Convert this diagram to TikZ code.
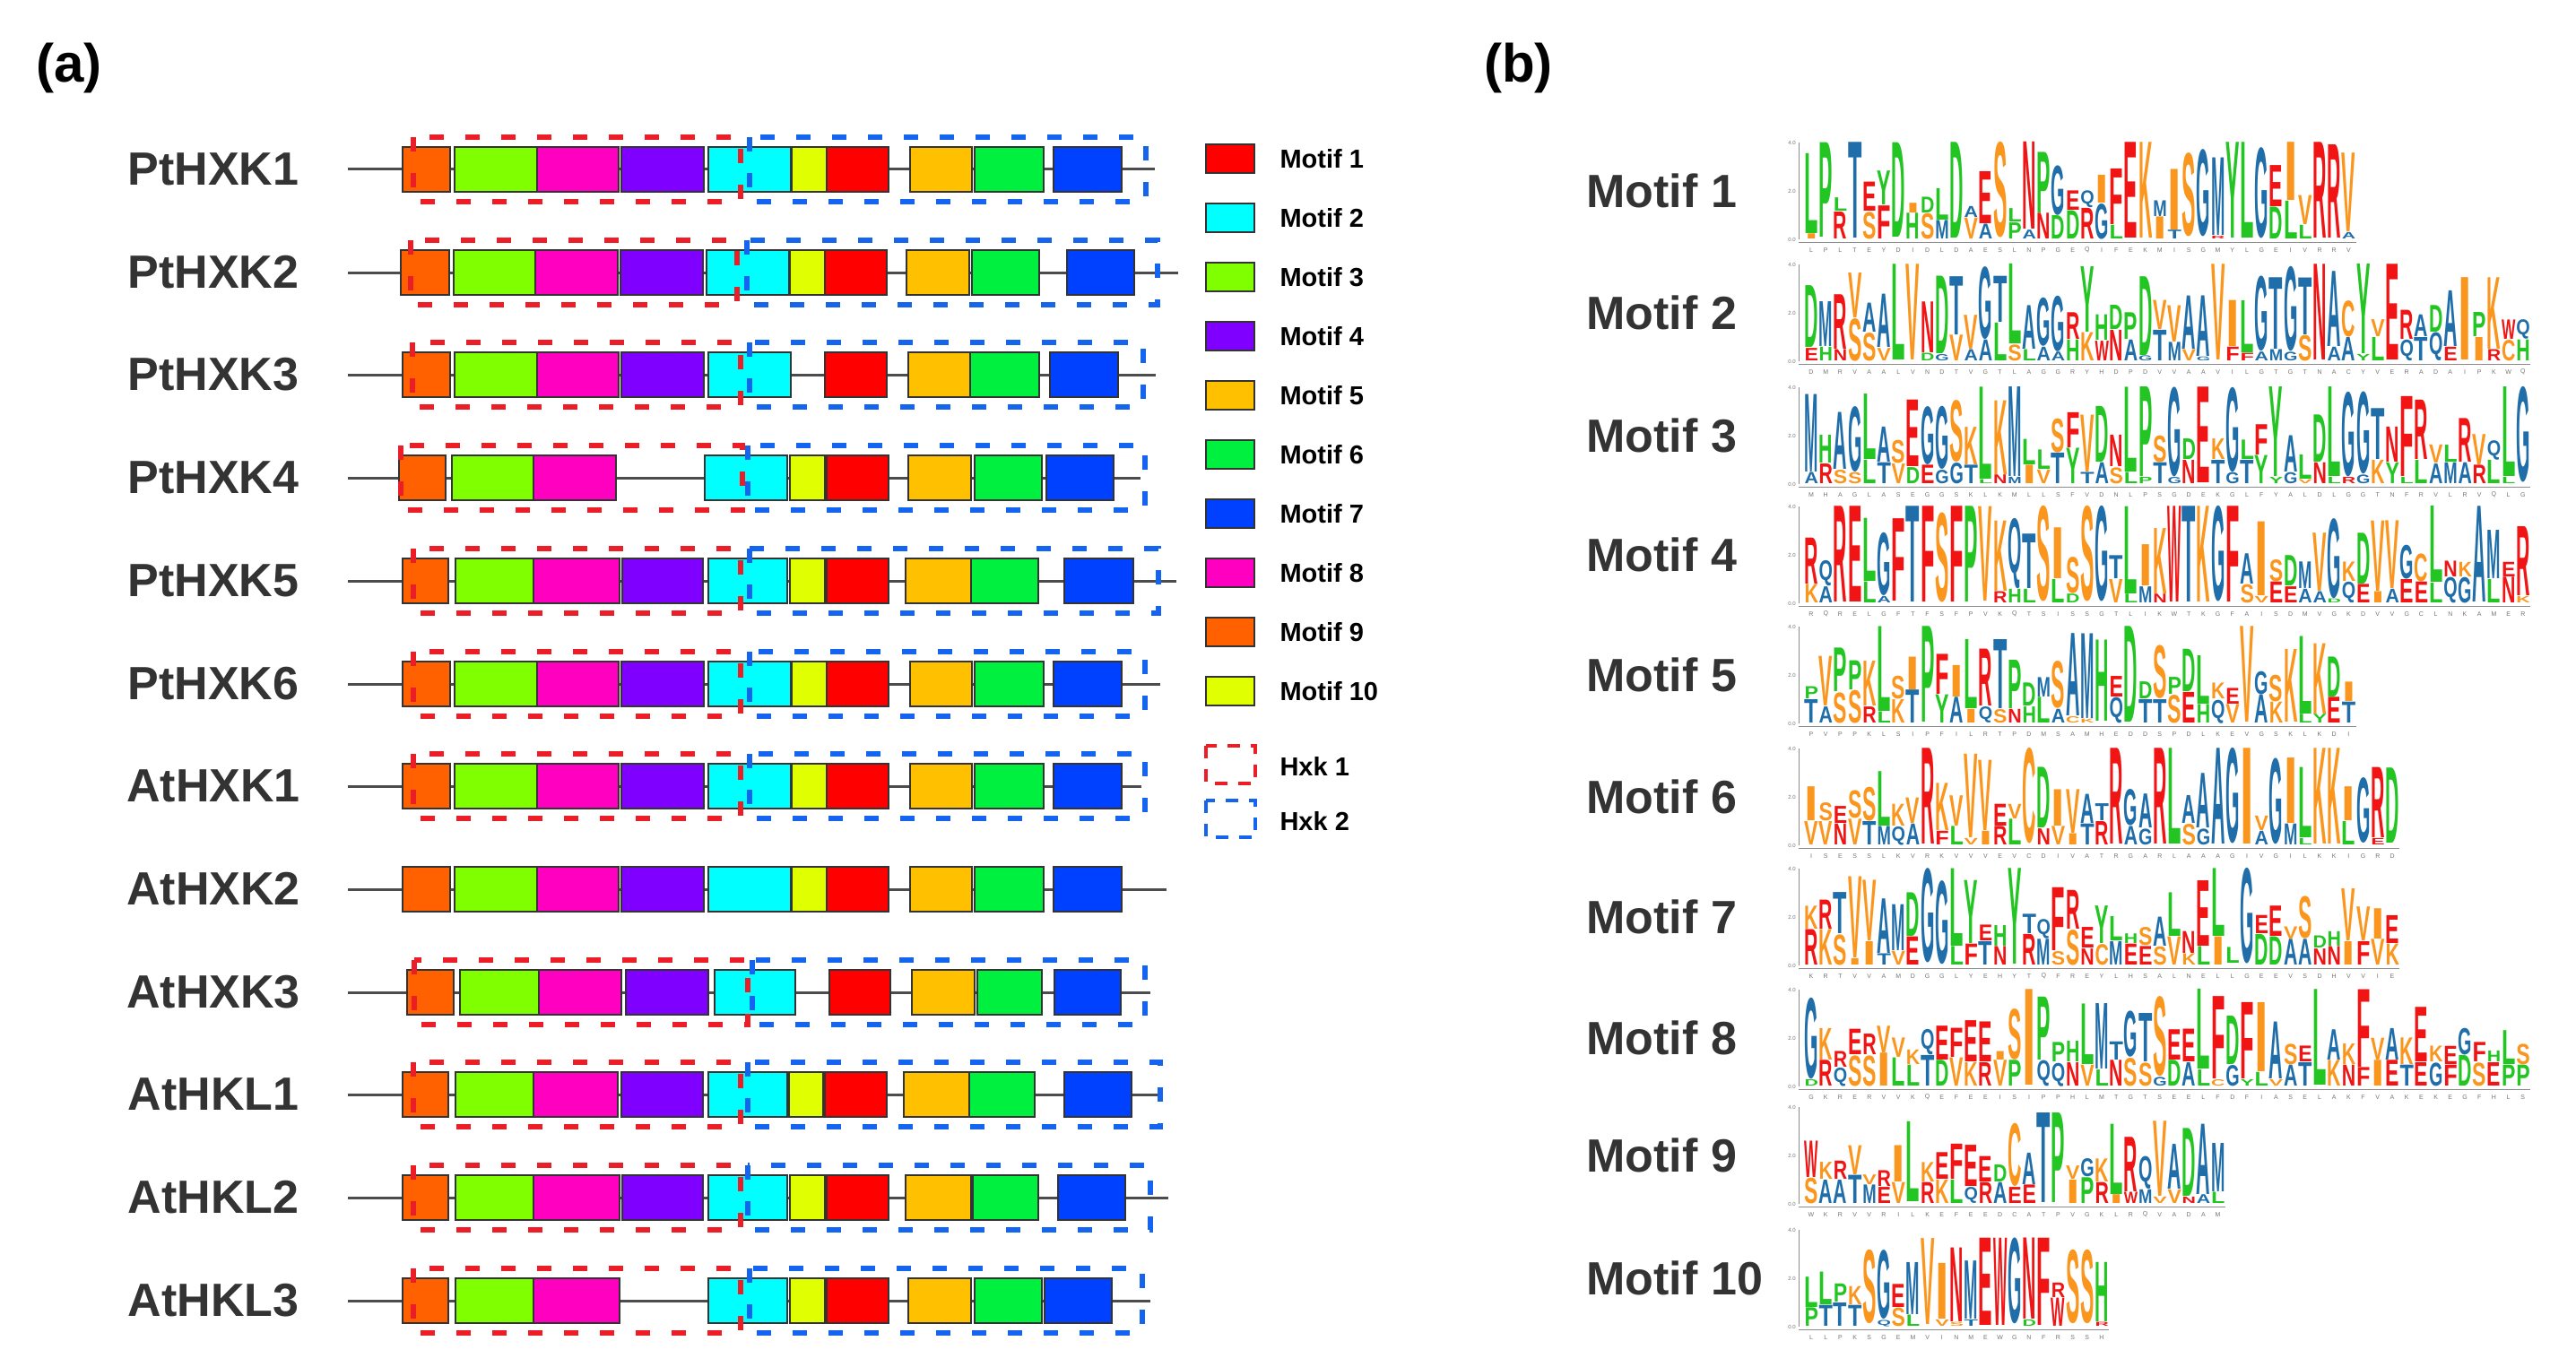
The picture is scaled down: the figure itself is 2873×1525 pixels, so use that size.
\documentclass[tikz,border=0pt]{standalone}
\usepackage{fontspec}
\setmainfont{Liberation Sans}
\usepackage{graphicx}

\definecolor{m1}{RGB}{255,0,0}
\definecolor{m2}{RGB}{0,255,255}
\definecolor{m3}{RGB}{128,255,0}
\definecolor{m4}{RGB}{128,0,255}
\definecolor{m5}{RGB}{255,192,0}
\definecolor{m6}{RGB}{0,240,64}
\definecolor{m7}{RGB}{0,64,255}
\definecolor{m8}{RGB}{255,0,192}
\definecolor{m9}{RGB}{255,96,0}
\definecolor{m10}{RGB}{224,255,0}
\definecolor{hxkred}{RGB}{235,30,40}
\definecolor{hxkblue}{RGB}{20,100,240}
\definecolor{logoblue}{RGB}{31,110,169}
\definecolor{logogreen}{RGB}{34,197,34}
\definecolor{logored}{RGB}{240,20,20}
\definecolor{logoorange}{RGB}{250,150,30}
\colorlet{lcA}{logoblue}\colorlet{lcG}{logoblue}\colorlet{lcM}{logoblue}
\colorlet{lcQ}{logoblue}\colorlet{lcT}{logoblue}
\colorlet{lcD}{logogreen}\colorlet{lcH}{logogreen}\colorlet{lcL}{logogreen}
\colorlet{lcP}{logogreen}\colorlet{lcY}{logogreen}
\colorlet{lcE}{logored}\colorlet{lcF}{logored}\colorlet{lcN}{logored}
\colorlet{lcR}{logored}\colorlet{lcW}{logored}
\colorlet{lcC}{logoorange}\colorlet{lcI}{logoorange}\colorlet{lcK}{logoorange}
\colorlet{lcS}{logoorange}\colorlet{lcV}{logoorange}

\tikzset{
  panel/.style={font=\fontsize{60}{70}\selectfont\bfseries, anchor=base west, inner sep=0pt},
  genelabel/.style={font=\fontsize{52}{60}\selectfont\bfseries, text=black!80},
  backbone/.style={line width=3pt, black!70},
  motifbox/.style={draw=black!80, line width=2.5pt},
  hxkone/.style={draw=hxkred, line width=5.5pt, dash pattern=on 16pt off 24pt},
  hxktwo/.style={draw=hxkblue, line width=5.5pt, dash pattern=on 16pt off 24pt},
  legtext/.style={font=\fontsize{29}{34}\selectfont\bfseries, anchor=west},
  motiflabel/.style={font=\fontsize{52}{60}\selectfont\bfseries, text=black!80, anchor=west},
  logoletter/.style={inner sep=0pt, anchor=south west, font=\bfseries},
  consletter/.style={inner sep=0pt, font=\fontsize{7}{8}\selectfont, text=black!55},
  ticklabel/.style={inner sep=1pt, anchor=east, font=\fontsize{6}{7}\selectfont, text=black!55},
  logoaxis/.style={line width=0.8pt, black!45}
}

% one gene: name, y, end of line, motifs
\newcommand{\generow}[4]{%
  \node[genelabel] (#1) at (238,#2) {#1};
  \draw[backbone] (388,#2) -- (#3,#2);
  \foreach \m/\xa/\xb in {#4}
    \draw[motifbox, fill=m\m] (\xa,#2-25) rectangle (\xb,#2+25);
}

% one logo: name, label, baseline, columns, letter/top/bottom/filler
\newcommand{\seqlogo}[5]{%
  \node[motiflabel] (#1) at (1766,#3-54) {#2};
  \draw[logoaxis] (2006,#3) -- (2006,#3-108);
  \draw[logoaxis] (2006,#3+3) -- ({2012+#4*16.2},#3+3);
  \foreach \v/\vt in {0/0.0,2/2.0,4/4.0}
    \node[ticklabel] (#1t\v) at (2004,#3-\v*27) {\vt};
  \foreach \ltr/\tp/\bt/\sbl [count=\i] in {#5} {
    \pgfmathsetmacro\xx{2012.3+(\i-1)*16.2}
    \pgfmathsetmacro\hta{(\tp-\bt)*27}
    \pgfmathsetmacro\hb{\bt*27}
    \pgfmathsetmacro\hc{\bt*27-1}
    \node[logoletter, text=lc\ltr] (#1top\i) at (\xx,#3-\hb) {\resizebox*{15.4pt}{\hta pt}{\ltr}};
    \ifdim\hb pt>3pt
      \node[logoletter, text=lc\sbl] (#1low\i) at (\xx,#3) {\resizebox*{15.4pt}{\hc pt}{\sbl}};
    \fi
    \node[consletter] (#1c\i) at (\xx+7.7,#3+12) {\ltr};
  }
}

\begin{document}
\begin{tikzpicture}[x=1pt,y=-1pt]
  \useasboundingbox (0,0) rectangle (2873,1525);

  \node[panel] (pa) at (40,92) {(a)};
  \node[panel] (pb) at (1655,92) {(b)};

  \generow{PtHXK1}{189}{1288}{9/449/502,3/507/599,8/599/690,4/693/785,2/790/882,10/883/922,1/922/991,5/1015/1084,6/1087/1164,7/1175/1251}
  \generow{PtHXK2}{304}{1314}{9/447/501,3/506/597,8/597/689,4/692/784,2/788/880,10/881/920,1/920/989,5/1011/1081,6/1084/1159,7/1190/1265}
  \generow{PtHXK3}{418}{1289}{9/449/502,3/507/599,8/599/690,4/693/785,2/790/882,1/920/989,5/1013/1082,6/1082/1159,7/1171/1247}
  \generow{PtHXK4}{533}{1272}{9/445/497,3/504/595,8/595/687,2/786/878,10/881/920,1/922/991,5/1013/1083,6/1087/1162,7/1167/1242}
  \generow{PtHXK5}{648}{1312}{9/449/500,3/508/595,8/595/691,4/694/784,2/790/878,10/881/920,1/922/991,5/1010/1083,6/1083/1158,7/1187/1264}
  \generow{PtHXK6}{763}{1294}{9/449/502,3/507/599,8/599/690,4/693/785,2/790/882,10/883/922,1/922/991,5/1015/1084,6/1087/1164,7/1175/1251}
  \generow{AtHXK1}{877}{1273}{9/449/502,3/507/599,8/599/690,4/693/785,2/790/882,10/883/922,1/922/991,5/1015/1084,6/1087/1164,7/1175/1251}
  \generow{AtHXK2}{992}{1301}{9/449/502,3/507/599,8/599/690,4/693/785,2/790/882,10/883/922,1/922/991,5/1015/1084,6/1087/1164,7/1175/1251}
  \generow{AtHXK3}{1107}{1283}{9/454/506,3/513/601,8/601/693,4/698/790,2/797/887,1/925/993,5/1017/1087,6/1090/1162,7/1176/1250}
  \generow{AtHKL1}{1221}{1294}{9/449/500,3/508/595,8/595/689,4/693/784,2/790/878,10/880/918,1/920/989,5/1008/1081,6/1081/1154,7/1187/1262}
  \generow{AtHKL2}{1336}{1303}{9/449/500,3/508/595,8/595/691,4/694/784,2/790/878,10/881/920,1/922/991,5/1010/1083,6/1085/1158,7/1180/1255}
  \generow{AtHKL3}{1451}{1283}{9/449/500,3/508/595,8/595/691,2/790/878,10/881/920,1/922/991,5/1013/1083,6/1087/1162,7/1165/1240}

  \foreach \y/\rl/\rr/\bl/\br in {189/461/826/836/1278, 304/458/822/833/1291, 418/460/826/836/1275,
      533/447/828/834/1277, 648/461/826/836/1292, 763/461/826/836/1277, 877/461/826/836/1277,
      1107/462/834/839/1277, 1221/461/826/834/1294, 1336/461/826/834/1283, 1451/461/826/836/1274} {
    \draw[hxkone] (\rl,\y-36) rectangle (\rr,\y+36);
    \draw[hxktwo] (\bl,\y-36) rectangle (\br,\y+36);
  }

  % legend
  \foreach \m in {1,...,10} {
    \pgfmathsetmacro\yy{177+(\m-1)*66}
    \draw[motifbox, fill=m\m] (1345,\yy-16) rectangle (1399,\yy+16);
    \node[legtext] (leg\m) at (1424,\yy) {Motif \m};
  }
  \draw[hxkone, line width=4pt, dash pattern=on 14pt off 12pt] (1345,832) rectangle (1400,874);
  \node[legtext] (hxk1) at (1424,855) {Hxk 1};
  \draw[hxktwo, line width=4pt, dash pattern=on 14pt off 12pt] (1345,893) rectangle (1400,934);
  \node[legtext] (hxk2) at (1424,916) {Hxk 2};

  \seqlogo{mo1}{Motif 1}{267}{38}{L/3.55/0.25/I, P/4.0/0.1/L, L/1.7/1.15/R, T/4.0/0.05/T, E/2.35/1.15/S, Y/2.8/1.4/F, D/4.0/0.1/D, I/1.5/1.1/H, D/1.75/1.1/S, L/2.1/0.8/M, D/4.0/0.05/D, A/1.35/0.9/V, E/2.8/0.65/A, S/4.0/0.05/S, L/1.25/0.7/P, N/4.0/0.4/A, P/3.6/1.1/N, G/3.05/1.0/D, E/2.0/1.2/D, Q/2.0/1.3/R, I/2.65/1.5/G, F/2.9/0.6/L, E/4.0/0.05/E, K/4.0/0.05/K, M/1.6/0.95/I, I/2.9/0.4/T, S/3.55/0.1/V, G/3.7/0.1/G, M/3.35/0.15/R, Y/4.0/0.05/Y, L/4.0/0.05/L, G/3.8/0.05/G, E/3.05/1.35/D, I/4.0/1.6/L, V/1.8/0.6/L, R/4.0/0.05/R, R/3.9/0.05/R, V/3.55/0.3/A}

  \seqlogo{mo2}{Motif 2}{403}{50}{D/3.1/0.55/E, M/2.45/0.6/H, R/2.75/0.5/N, V/3.65/1.8/S, A/2.4/1.2/S, A/2.75/0.55/V, L/4.0/0.05/L, V/4.0/0.05/V, N/2.45/0.35/D, D/3.5/0.3/G, T/3.5/1.1/V, V/1.9/0.5/A, G/3.9/0.9/A, T/3.5/1.6/L, L/4.0/0.7/S, A/2.3/0.5/L, G/2.6/0.6/A, G/2.7/0.4/A, R/2.0/0.9/H, Y/3.9/1.2/K, H/1.9/0.85/W, D/2.3/1.3/N, P/2.0/0.9/A, D/3.5/0.25/G, V/2.5/1.3/T, V/2.3/0.8/M, A/2.7/0.5/V, A/2.7/0.2/G, V/4.0/0.05/V, I/2.5/0.6/F, L/2.5/0.35/F, G/3.5/0.4/A, T/3.45/0.5/M, G/3.9/0.4/G, T/3.45/1.1/S, N/4.0/0.05/N, A/3.7/0.6/A, C/2.5/1.0/A, Y/4.0/0.3/Y, V/1.7/1.0/L, E/4.0/0.05/E, R/2.1/0.9/Q, A/1.9/1.0/T, D/2.3/1.2/Q, A/2.9/0.6/E, I/3.45/0.05/I, P/2.0/1.0/I, K/3.45/0.5/R, W/1.7/0.9/C, Q/1.7/0.9/H}

  \seqlogo{mo3}{Motif 3}{540}{50}{M/3.7/0.5/A, H/2.0/0.85/R, A/2.95/0.6/S, G/3.2/0.5/S, L/3.7/1.0/L, A/2.35/0.9/T, S/1.8/0.85/V, E/3.45/0.7/D, G/3.2/0.8/E, G/3.2/0.6/G, S/3.45/0.9/G, K/2.35/0.8/T, L/4.0/0.2/L, K/3.45/0.4/N, M/4.0/0.3/M, L/1.85/0.8/I, L/1.4/0.6/V, S/2.7/1.3/T, F/2.95/1.5/Y, V/2.85/0.5/T, D/3.2/0.9/A, N/2.0/0.7/S, L/4.0/0.5/L, P/4.0/0.3/P, S/2.0/0.9/T, G/4.0/0.3/G, D/1.85/1.0/N, E/4.0/0.05/E, K/1.85/1.0/T, G/4.0/0.5/G, L/1.8/1.0/T, F/2.45/1.2/Y, Y/4.0/0.3/Y, A/2.0/0.5/G, L/1.2/0.2/V, D/2.85/0.9/N, L/4.0/0.3/L, G/3.8/0.3/R, G/3.8/0.4/G, T/3.1/1.0/K, N/2.35/0.9/Y, F/3.6/0.3/L, R/3.45/1.0/L, V/1.6/0.85/A, L/1.6/0.9/M, R/2.7/0.9/A, V/2.05/0.8/R, Q/1.8/1.0/L, L/4.0/0.3/L, G/4.0/0.05/G}

  \seqlogo{mo4}{Motif 4}{673}{50}{R/2.7/0.8/K, Q/1.75/0.7/A, R/4.0/0.05/R, E/4.0/0.05/E, L/3.5/0.9/L, G/2.9/0.3/A, F/3.5/0.1/L, T/4.0/0.05/T, F/4.0/0.05/F, S/3.75/0.05/S, F/4.0/0.05/F, P/4.0/0.05/P, V/4.0/0.1/V, K/3.4/0.5/R, Q/3.5/0.6/H, T/2.85/0.6/L, S/4.0/0.05/S, I/3.1/1.0/L, S/1.9/0.4/D, S/4.0/0.05/S, G/4.0/0.05/G, T/1.95/1.0/V, L/4.0/0.4/L, I/2.4/0.7/M, K/3.1/0.4/N, W/4.0/0.05/W, T/4.0/0.05/T, K/4.0/0.05/K, G/4.0/0.05/G, F/4.0/0.05/F, A/2.05/0.8/S, I/3.35/0.3/V, S/1.8/0.9/E, D/1.95/0.7/E, M/1.7/0.6/A, V/2.9/0.5/A, G/3.5/0.2/D, K/1.7/0.9/Q, D/2.9/0.8/E, V/3.4/0.5/I, V/3.4/0.6/A, G/2.4/1.0/E, C/2.05/0.9/E, L/4.0/0.85/L, N/1.75/1.1/Q, K/1.7/1.1/G, A/4.0/0.05/A, M/3.0/1.0/L, E/1.7/1.1/N, R/3.15/0.3/K}

  \seqlogo{mo5}{Motif 5}{807}{38}{P/1.5/1.0/T, V/2.75/0.7/A, P/3.1/1.3/S, P/2.6/1.4/S, K/2.55/0.7/R, L/4.0/0.5/L, S/1.95/1.0/K, I/2.75/1.4/T, P/4.0/0.05/P, F/2.85/1.2/Y, I/2.4/1.1/A, L/3.45/0.6/I, R/3.05/0.7/Q, T/3.45/0.6/S, P/2.6/0.6/N, D/1.65/0.7/H, M/1.9/1.1/L, S/2.55/0.6/A, A/3.7/0.3/C, M/3.7/0.2/K, H/3.45/0.1/Q, E/1.95/1.1/Q, D/4.0/0.05/D, D/1.7/1.0/T, S/3.2/1.0/T, P/1.9/1.2/S, D/3.05/1.3/E, L/2.8/0.8/H, K/1.65/1.0/Q, E/1.45/0.8/V, V/4.0/0.05/V, G/2.15/1.2/A, S/2.0/0.9/K, K/3.05/0.05/K, L/3.6/0.4/L, K/3.3/0.4/Y, D/2.75/1.1/E, I/1.7/0.9/T}

  \seqlogo{mo6}{Motif 6}{943}{41}{I/2.4/1.0/V, S/1.75/1.0/V, E/1.6/0.9/N, S/2.25/1.1/V, S/2.4/1.0/T, L/3.05/0.8/M, K/1.7/0.8/Q, V/1.95/0.9/A, R/4.0/0.05/R, K/2.55/0.6/F, V/2.05/0.8/L, V/3.75/0.3/V, V/3.5/0.6/I, E/1.7/0.8/R, V/1.7/1.1/L, C/4.0/0.05/C, D/3.2/0.7/N, I/2.3/0.8/V, V/2.3/0.5/I, A/2.1/0.9/T, T/1.7/1.0/R, R/4.0/0.05/R, G/2.3/0.8/A, A/2.1/0.7/G, R/4.0/0.05/R, L/4.0/0.05/L, A/2.05/0.9/S, A/2.95/0.7/G, A/4.0/0.05/A, G/4.0/0.05/G, I/4.0/0.05/I, V/1.2/0.6/A, G/3.6/0.05/G, I/3.6/0.9/M, L/3.2/0.3/L, K/4.0/0.05/K, K/4.0/0.05/K, I/2.4/1.0/L, G/2.8/0.1/M, R/3.2/0.3/E, D/3.2/0.1/L}

  \seqlogo{mo7}{Motif 7}{1077}{41}{K/2.45/1.5/R, R/2.7/1.5/K, T/3.0/1.3/S, V/3.65/0.3/I, V/3.5/1.0/I, A/2.75/0.5/T, M/2.5/0.6/V, D/3.0/1.2/E, G/4.0/0.1/G, G/3.5/0.05/G, L/4.0/0.8/L, Y/3.5/0.9/F, E/1.65/1.0/T, H/1.65/0.8/N, Y/4.0/0.05/Y, T/2.1/1.3/R, Q/1.9/1.1/M, F/3.2/0.6/S, R/3.1/1.5/S, E/1.55/0.7/N, Y/2.45/0.9/C, L/2.0/1.0/M, H/1.3/0.9/E, S/1.55/0.8/E, A/2.0/0.8/S, L/3.0/1.2/V, N/1.4/0.5/K, E/3.5/0.8/L, L/4.0/1.2/I, L/0.75/0.1/M, G/4.0/0.05/G, E/2.05/1.3/D, E/2.45/1.2/D, V/1.6/1.1/A, S/2.85/1.1/A, D/1.2/0.7/N, H/1.4/0.8/N, V/3.15/1.0/I, V/2.4/1.0/F, I/2.35/1.1/V, E/2.05/0.9/K}

  \seqlogo{mo8}{Motif 8}{1212}{50}{G/3.65/0.3/D, K/2.4/1.1/R, R/1.45/0.8/Q, E/2.35/1.3/S, R/2.15/1.3/S, V/2.5/1.4/I, V/2.0/1.2/L, K/1.5/0.9/L, Q/2.35/1.3/T, E/2.5/1.1/D, F/2.4/1.2/V, E/2.7/1.0/K, E/2.65/1.0/R, I/1.45/1.1/V, S/3.2/1.1/P, I/4.0/0.05/I, P/3.7/1.1/Q, P/1.8/1.0/Q, H/1.85/1.0/N, L/3.4/0.9/V, M/3.4/0.7/L, T/1.85/1.1/N, G/3.1/1.2/S, T/3.0/1.0/S, S/3.7/0.4/G, E/2.35/1.1/D, E/2.35/1.0/A, L/4.0/0.7/L, F/3.7/0.3/C, D/2.9/0.9/G, F/3.45/0.3/Y, I/3.45/0.6/L, A/2.65/0.3/V, S/1.75/0.9/A, E/1.65/1.0/T, L/4.0/0.05/L, A/2.35/1.1/K, K/1.75/0.9/N, F/4.0/0.8/F, V/2.0/1.1/I, A/2.4/1.1/E, K/2.0/0.9/T, E/3.25/1.0/E, K/1.65/1.0/G, E/1.65/0.9/F, G/2.4/1.3/D, F/1.8/1.0/S, H/1.45/1.0/E, L/2.3/0.9/P, S/1.75/0.9/P}

  \seqlogo{mo9}{Motif 9}{1343}{29}{W/2.6/1.1/S, K/1.7/1.0/A, R/1.75/1.0/A, V/2.4/1.2/T, V/1.2/0.8/M, R/1.35/0.7/E, I/2.4/0.9/V, L/3.4/0.1/L, K/1.7/0.9/R, E/2.1/1.0/K, F/2.45/1.0/L, E/2.4/0.7/Q, E/1.95/0.9/R, D/1.6/0.9/A, C/3.3/0.7/E, A/2.1/0.8/E, T/3.75/0.05/T, P/3.75/0.05/P, V/1.55/1.0/I, G/1.85/1.1/P, K/1.85/0.9/R, L/3.3/0.4/I, R/2.75/0.5/W, Q/1.95/0.6/M, V/3.4/0.3/V, A/2.45/0.6/V, D/3.1/0.3/N, A/3.3/0.4/A, M/2.5/0.5/L}

  \seqlogo{mo10}{Motif 10}{1480}{21}{L/2.05/0.8/P, L/2.25/0.9/T, P/1.75/1.0/T, K/1.65/0.9/T, S/3.15/0.1/P, G/3.15/0.3/Q, E/1.75/0.8/S, M/2.65/0.5/L, V/3.65/0.1/V, I/2.6/0.3/V, N/3.25/0.2/S, M/2.7/0.3/T, E/3.65/0.05/E, W/3.65/0.05/W, G/3.65/0.1/G, N/3.65/0.3/D, F/3.65/0.05/F, R/1.8/1.2/W, S/3.15/0.1/C, S/3.15/0.1/C, H/2.65/0.2/R}

\end{tikzpicture}
\end{document}
